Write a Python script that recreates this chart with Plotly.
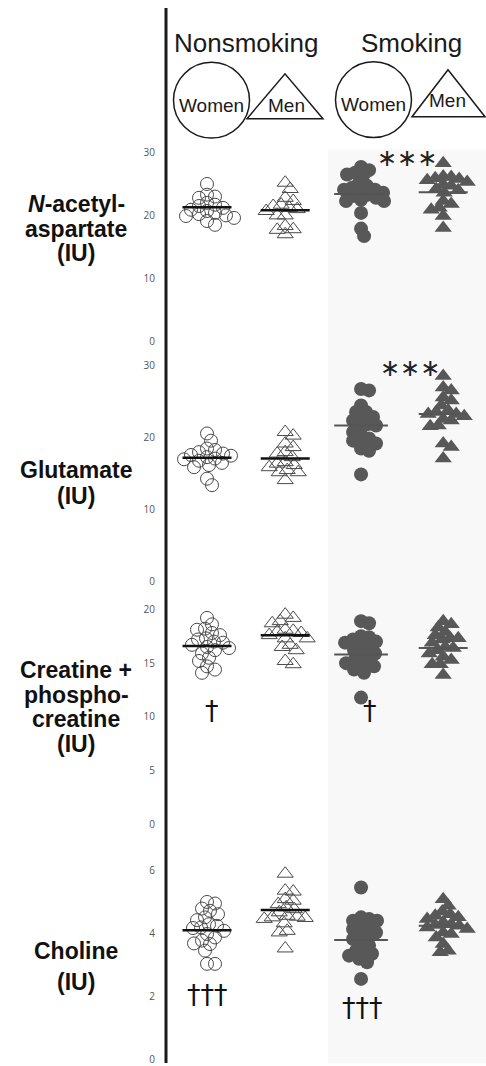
import plotly.graph_objects as go

W, H = 486, 1066

# ---------------- data ----------------
groups = ["Nonsmoking women", "Nonsmoking men", "Smoking women", "Smoking men"]

naa_ns_women = [25.0, 23.3, 23.0, 22.8, 22.0, 21.7, 21.5, 21.2, 20.9, 20.7, 20.4, 20.2, 20.0, 19.9, 19.6, 19.1, 18.5]
naa_ns_men = [25.2, 24.2, 22.8, 22.3, 21.7, 21.5, 21.2, 21.0, 20.7, 20.0, 20.0, 18.3, 17.8, 17.7, 17.0]
naa_s_women = [27.7, 27.2, 26.8, 26.5, 26.3, 25.2, 24.7, 24.4, 24.1, 24.1, 23.9, 23.6, 23.3, 23.1, 22.8, 22.5, 22.3, 22.3, 20.4, 17.9, 16.7]
naa_s_men = [28.3, 26.2, 26.1, 25.9, 25.8, 25.6, 25.3, 24.9, 24.7, 24.2, 24.0, 23.6, 22.3, 21.8, 21.2, 20.9, 19.9, 18.0]
naa_means = [21.3, 20.8, 23.4, 23.7]

glu_ns_women = [20.6, 19.6, 18.5, 18.3, 18.0, 17.8, 17.6, 17.5, 17.3, 17.1, 17.0, 16.8, 16.5, 16.2, 15.9, 14.3, 13.4]
glu_ns_men = [20.8, 20.3, 19.2, 18.7, 18.0, 17.8, 17.3, 16.6, 16.4, 16.2, 15.9, 15.5, 15.2, 15.2, 14.1]
glu_s_women = [26.8, 26.6, 24.5, 23.6, 23.6, 22.9, 22.6, 22.4, 21.9, 21.7, 21.3, 20.8, 20.1, 19.9, 19.6, 19.2, 18.5, 18.2, 14.9]
glu_s_men = [28.6, 27.0, 26.6, 25.6, 25.2, 24.5, 23.8, 23.6, 23.3, 23.3, 23.0, 22.6, 22.4, 21.7, 21.6, 19.2, 18.7, 17.1]
glu_means = [17.2, 17.1, 21.7, 23.3]

cr_ns_women = [19.2, 18.6, 18.2, 18.1, 17.8, 17.6, 17.3, 17.2, 17.0, 16.9, 16.7, 16.5, 16.4, 16.2, 15.9, 15.5, 15.2, 14.7, 14.4, 14.1]
cr_ns_men = [19.5, 19.2, 18.9, 18.7, 18.1, 18.0, 17.9, 17.8, 17.6, 17.3, 17.3, 16.7, 16.5, 16.2, 15.2, 14.9]
cr_s_women = [18.9, 18.7, 17.5, 17.4, 17.2, 17.0, 16.9, 16.6, 16.4, 16.2, 15.9, 15.6, 15.3, 15.2, 15.0, 14.8, 14.7, 14.4, 14.1, 11.8]
cr_s_men = [18.9, 18.6, 18.3, 17.9, 17.6, 17.3, 17.3, 17.2, 16.9, 16.5, 16.4, 16.2, 15.9, 15.6, 15.3, 14.9, 14.9, 13.9]
cr_means = [16.6, 17.6, 15.8, 16.4]

cho_ns_women = [4.95, 5.0, 4.79, 4.72, 4.61, 4.51, 4.42, 4.29, 4.24, 4.19, 4.17, 4.08, 3.98, 3.87, 3.77, 3.68, 3.66, 3.45, 3.03, 3.03]
cho_ns_men = [5.9, 5.36, 5.33, 5.09, 5.04, 4.93, 4.83, 4.77, 4.67, 4.56, 4.53, 4.51, 4.49, 4.46, 4.32, 4.08, 4.03, 3.52]
cho_s_women = [5.46, 4.51, 4.46, 4.4, 4.4, 4.24, 4.19, 4.14, 4.03, 3.93, 3.87, 3.82, 3.66, 3.61, 3.45, 3.4, 3.35, 3.29, 3.19, 3.08, 2.55]
cho_s_men = [5.09, 4.88, 4.7, 4.61, 4.56, 4.51, 4.46, 4.35, 4.29, 4.27, 4.24, 4.19, 4.14, 4.03, 3.98, 3.87, 3.66, 3.45, 3.4]
cho_means = [4.1, 4.74, 3.79, 4.24]

panel_labels = [
    ["<i>N</i>-acetyl-", "aspartate", "(IU)"],
    ["Glutamate", "(IU)"],
    ["Creatine +", "phospho-", "creatine", "(IU)"],
    ["Choline", "(IU)"],
]
tick_values = [[0, 10, 20, 30], [0, 10, 20, 30], [0, 5, 10, 15, 20], [0, 2, 4, 6]]

panels = [
    ([naa_ns_women, naa_ns_men, naa_s_women, naa_s_men], naa_means),
    ([glu_ns_women, glu_ns_men, glu_s_women, glu_s_men], glu_means),
    ([cr_ns_women, cr_ns_men, cr_s_women, cr_s_men], cr_means),
    ([cho_ns_women, cho_ns_men, cho_s_women, cho_s_men], cho_means),
]

# ---------------- layout geometry ----------------
def px(x):
    return x / W

def py(y):
    return 1 - y / H

AXIS_X = 166          # pixel x of the vertical axis line
X_SCALE = 79.0        # pixels per x unit
group_x = [1.0, 1.99, 2.95, 3.99]
x_lo = 1 - (207 - AXIS_X) / X_SCALE
x_hi = x_lo + (W - AXIS_X) / X_SCALE

# (pixel of value 0, pixels per unit, domain top px, domain bottom px)
panel_geom = [
    (342, 6.3, 145, 350),
    (583, 7.2, 355, 592),
    (827, 10.8, 598, 838),
    (1062, 31.5, 850, 1066),
]
label_lines_y = [[205, 230, 254], [471, 497], [672, 697, 721, 746], [954, 985]]
LABEL_X = 76

styles = [
    dict(symbol="circle-open", size=13, color="#4a4a4a", line=dict(width=1, color="#4a4a4a")),
    dict(symbol="triangle-up-open", size=14, color="#4a4a4a", line=dict(width=1, color="#4a4a4a")),
    dict(symbol="circle", size=14, color="#585858", line=dict(width=0)),
    dict(symbol="triangle-up", size=15, color="#585858", line=dict(width=0)),
]
mean_colors = ["#111111", "#111111", "#555555", "#555555"]
mean_widths = [2.5, 2.5, 2.0, 2.0]


def swarm_offsets(values, ppu, d=8.0):
    """Beeswarm offsets (in x units) so markers overlap only moderately."""
    order = sorted(range(len(values)), key=lambda i: -values[i])
    placed = []
    offs = [0.0] * len(values)
    for i in order:
        y = values[i] * ppu
        cands = [0.0]
        for k in range(1, 60):
            cands += [k * 1.0, -k * 1.0]
        for c in cands:
            ok = True
            for (xx, yy) in placed:
                if (xx - c) ** 2 + (yy - y) ** 2 < d * d:
                    ok = False
                    break
            if ok:
                placed.append((c, y))
                offs[i] = c / X_SCALE
                break
    return offs


fig = go.Figure()
annotations = []
shapes = []

# shaded smoking area
shapes.append(dict(type="rect", xref="paper", yref="paper", x0=px(328), x1=1, y0=0, y1=py(150),
                   fillcolor="#f8f8f8", line=dict(width=0), layer="below"))

label_font = dict(family="Liberation Sans, Arial", size=23, color="#111111", weight="bold")

for p, ((series, means), (zero, ppu, top, bot)) in enumerate(zip(panels, panel_geom)):
    yname = "y" if p == 0 else f"y{p+1}"
    for g, vals in enumerate(series):
        offs = swarm_offsets(vals, ppu)
        fig.add_trace(go.Scatter(
            x=[group_x[g] + o for o in offs], y=vals, mode="markers",
            marker=styles[g], xaxis="x", yaxis=yname, cliponaxis=False,
            showlegend=False, hoverinfo="y", name=groups[g]))
    for g, m in enumerate(means):
        hw = 0.34 if g == 2 else 0.31
        fig.add_trace(go.Scatter(
            x=[group_x[g] - hw, group_x[g] + hw], y=[m, m], mode="lines",
            line=dict(color=mean_colors[g], width=mean_widths[g]),
            xaxis="x", yaxis=yname, cliponaxis=False, showlegend=False, hoverinfo="skip"))
    axis = dict(
        domain=[py(bot), py(top)],
        range=[(zero - bot) / ppu, (zero - top) / ppu],
        anchor="x", tickvals=tick_values[p], ticktext=[str(t) for t in tick_values[p]],
        ticks="outside", ticklen=8, tickcolor="rgba(0,0,0,0)",
        tickfont=dict(family="Open Sans, Arial", size=10, color="#555555"),
        ticklabeloverflow="allow",
        showgrid=False, zeroline=False, showline=False,
    )
    fig.layout["yaxis" if p == 0 else f"yaxis{p+1}"] = axis
    for txt, ly in zip(panel_labels[p], label_lines_y[p]):
        annotations.append(dict(xref="paper", yref="paper", x=px(LABEL_X), y=py(ly), text=txt,
                                showarrow=False, xanchor="center", yanchor="middle",
                                font=label_font))

# vertical axis line
shapes.append(dict(type="line", xref="paper", yref="paper", x0=px(AXIS_X), x1=px(AXIS_X),
                   y0=0, y1=py(8), line=dict(color="#1a1a1a", width=3)))

# header: group titles and symbol legend
hdr_font = dict(family="Liberation Sans, Arial", size=26, color="#1a1a1a")
annotations.append(dict(xref="paper", yref="paper", x=px(246), y=py(43), text="Nonsmoking",
                        showarrow=False, font=hdr_font, xanchor="center", yanchor="middle"))
annotations.append(dict(xref="paper", yref="paper", x=px(411), y=py(43), text="Smoking",
                        showarrow=False, font=hdr_font, xanchor="center", yanchor="middle"))
small_font = dict(family="Liberation Sans, Arial", size=19, color="#1a1a1a")
for cx, cy in [(211.5, 100.5), (373.5, 100)]:
    r = 38
    shapes.append(dict(type="circle", xref="paper", yref="paper", x0=px(cx - r), x1=px(cx + r),
                       y0=py(cy + r), y1=py(cy - r), line=dict(color="#1a1a1a", width=1.5)))
    annotations.append(dict(xref="paper", yref="paper", x=px(cx), y=py(cy + 5), text="Women",
                            showarrow=False, font=small_font, xanchor="center", yanchor="middle"))
for (lx, ax_, rx, ay, by, tx, ty) in [(247, 285, 323, 74, 119, 286, 106), (412, 448, 485, 70, 117, 447, 101)]:
    path = f"M {px(lx)} {py(by)} L {px(ax_)} {py(ay)} L {px(rx)} {py(by)} Z"
    shapes.append(dict(type="path", xref="paper", yref="paper", path=path,
                       line=dict(color="#1a1a1a", width=1.5)))
    annotations.append(dict(xref="paper", yref="paper", x=px(tx), y=py(ty), text="Men",
                            showarrow=False, font=small_font, xanchor="center", yanchor="middle"))

# significance marks
star_font = dict(family="DejaVu Sans", size=24, color="#222222")
for sx, sy in [(407, 158), (410, 369)]:
    annotations.append(dict(xref="paper", yref="paper", x=px(sx), y=py(sy), text="∗∗∗",
                            showarrow=False, font=star_font, xanchor="center", yanchor="middle"))
dag_font = dict(family="DejaVu Sans", size=27, color="#111111")
for dx, dy, t in [(212, 713, "†"), (370, 713, "†"), (207, 997, "†††"), (362, 1010, "†††")]:
    annotations.append(dict(xref="paper", yref="paper", x=px(dx), y=py(dy), text=t,
                            showarrow=False, font=dag_font, xanchor="center", yanchor="middle"))

fig.update_layout(
    width=W, height=H, margin=dict(l=0, r=0, t=0, b=0),
    paper_bgcolor="white", plot_bgcolor="rgba(0,0,0,0)",
    xaxis=dict(domain=[px(AXIS_X), 1], range=[x_lo, x_hi], visible=False, anchor="y4"),
    shapes=shapes, annotations=annotations, showlegend=False,
)

fig.write_html("out.html", config={"displayModeBar": False},
               post_script="document.body.style.margin='0';")
